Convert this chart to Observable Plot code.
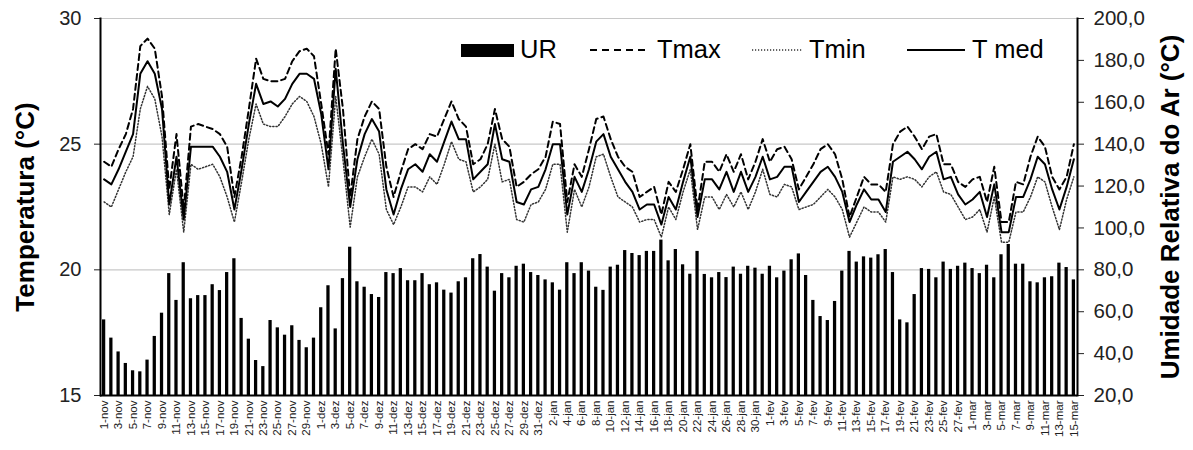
<!DOCTYPE html>
<html><head><meta charset="utf-8">
<script src="https://cdn.jsdelivr.net/npm/d3@7"></script>
<script src="https://cdn.jsdelivr.net/npm/@observablehq/plot@0.6"></script>
<style>
body{margin:0;background:#fff;}
#wrap{position:relative;width:1193px;height:450px;font-family:"Liberation Sans",Arial,sans-serif;}
#wrap svg{display:block;}
#legend{position:absolute;left:0;top:0;}
</style></head><body><div id="wrap"></div>
<script>
const months = ["nov","dez","jan","fev","mar"];
const monthDays = [30,31,31,28,15];
const dias = months.flatMap((m,k)=>d3.range(1,monthDays[k]+1).map(d=>`${d}-${m}`));

const UR = [56.1,47.4,40.8,35.3,31.8,31.3,36.9,48.2,59.3,78.2,65.4,83.4,66.2,67.7,67.7,72.9,70.1,78.7,85.3,56.8,
46.9,36.7,33.8,55.8,52.3,48.8,53.3,46.3,42.8,47.4,61.9,72.4,51.8,75.8,90.8,74.3,71.7,68.2,66.8,78.7,
78.2,80.6,74.8,74.8,78.2,72.9,73.8,70.3,68.9,74.3,76.2,85.3,87.3,81.3,69.8,78.2,76.2,81.7,82.7,78.7,
77.3,75.2,73.8,70.3,83.4,78.2,83.4,79.4,71.7,70.2,81.3,82.2,89.2,87.8,86.8,88.8,88.8,94.2,84.3,89.7,
82.4,77.9,88.8,77.8,76.2,78.7,76.3,81.3,77.9,81.7,80.8,77.9,81.7,76.2,79.4,84.8,87.6,77.3,65.4,57.7,
55.8,64.9,79.4,88.8,83.7,86.2,85.6,87.2,89.7,78.7,56.1,54.7,68.2,80.6,80.2,76.2,83.7,80.2,81.7,83.2,
80.6,78.2,82.2,76.2,87.2,92.1,82.7,82.7,74.3,73.8,76.2,76.7,83.2,81.1,75.2];

const Tmed = [23.6,23.4,24.0,24.7,25.4,27.8,28.3,27.8,26.4,22.6,24.5,22.0,24.9,24.9,24.9,24.9,24.5,23.9,22.4,24.0,
25.8,27.4,26.6,26.7,26.5,26.8,27.4,27.8,27.8,27.6,26.2,24.0,28.0,25.0,22.5,24.4,25.4,26.0,25.5,23.2,
22.2,23.2,24.0,24.2,23.9,24.6,24.3,25.1,25.9,25.2,25.2,23.6,23.9,24.2,25.8,24.4,24.3,22.7,22.6,23.2,
23.3,24.0,25.0,25.0,22.2,23.7,23.1,24.0,25.1,25.4,24.5,24.0,23.5,23.1,22.4,22.6,22.6,21.8,22.9,22.4,
23.5,24.5,22.1,23.6,23.6,23.2,23.9,23.1,23.9,23.1,23.7,24.5,23.6,23.7,24.1,24.1,22.7,23.1,23.5,23.9,
24.1,23.7,23.1,21.9,22.6,23.2,22.8,22.8,22.3,24.3,24.5,24.7,24.4,24.0,24.5,24.7,23.6,23.7,23.0,22.6,
22.8,23.1,22.1,23.4,21.5,21.5,22.9,22.9,23.6,24.5,24.2,23.2,22.4,23.3,24.4];

const Tmax = [24.3,24.1,24.8,25.4,26.4,28.9,29.2,28.8,26.9,23.2,25.4,22.4,25.7,25.8,25.7,25.6,25.4,24.9,22.9,24.5,
26.4,28.4,27.6,27.5,27.5,27.6,28.3,28.7,28.8,28.5,26.6,24.6,28.8,26.4,22.9,25.2,26.1,26.7,26.4,24.1,
22.9,23.9,24.8,25.0,24.8,25.4,25.3,26.0,26.7,26.0,25.7,24.2,24.4,25.0,26.4,25.2,24.9,23.3,23.5,23.8,
24.0,24.5,25.9,25.8,22.7,24.2,23.7,24.8,26.0,26.1,25.2,24.5,24.1,23.9,22.9,23.1,23.3,22.2,23.5,23.1,
24.0,25.0,22.4,24.3,24.3,23.9,24.6,23.9,24.6,23.6,24.3,25.2,24.3,24.8,24.9,24.4,23.2,23.7,24.2,24.8,
25.0,24.6,23.6,22.1,22.9,23.7,23.4,23.4,23.1,25.0,25.5,25.7,25.3,24.8,25.3,25.4,24.2,24.2,23.5,23.3,
23.6,23.7,22.7,24.1,21.9,21.9,23.5,23.4,24.5,25.3,24.9,23.7,23.2,23.7,25.0];

const Tmin = [22.7,22.5,23.2,23.9,24.5,26.4,27.3,26.8,25.3,22.2,24.0,21.5,24.2,24.0,24.1,24.2,23.7,22.9,21.9,23.5,
25.2,26.6,25.8,25.7,25.7,26.1,26.6,26.9,26.7,26.1,25.0,23.3,26.9,24.4,21.7,23.7,24.5,25.2,24.6,22.4,
21.8,22.5,23.3,23.3,23.1,23.7,23.4,24.2,25.1,24.4,24.3,23.1,23.3,23.6,25.0,23.5,23.6,22.0,21.9,22.6,
22.7,23.2,24.2,24.2,21.5,23.2,22.5,23.3,24.5,24.6,23.7,22.9,22.7,22.5,21.9,22.0,22.0,21.3,22.5,22.0,
23.1,24.0,21.6,22.9,22.9,22.4,23.0,22.5,23.1,22.4,23.1,24.0,23.0,22.9,23.4,23.3,22.4,22.5,22.6,22.9,
23.2,22.9,22.4,21.3,21.9,22.5,22.3,22.3,21.9,23.7,23.6,23.7,23.6,23.3,23.7,23.9,23.1,23.0,22.5,22.0,
22.1,22.4,21.5,22.9,21.1,21.1,22.3,22.3,22.9,23.7,23.5,22.5,21.6,22.8,23.7];

const yTicks = [15,20,25,30];
const urTicks = [20,40,60,80,100,120,140,160,180,200];
const urToT = u => 15 + (u - 20) * 15 / 180;
const tToUr = t => 20 + (t - 15) * 180 / 15;

const data = dias.map((dia,i)=>({dia, ur:UR[i], tmax:Tmax[i], tmin:Tmin[i], tmed:Tmed[i]}));

const font = "Liberation Sans, Arial, sans-serif";
const chart = Plot.plot({
  width:1193, height:450,
  marginLeft:100, marginRight:116, marginTop:18, marginBottom:55,
  style:{fontFamily:font, background:"white", color:"#222", overflow:"visible"},
  x:{type:"band", domain:dias, paddingInner:0.55, paddingOuter:0.275, label:null},
  y:{domain:[15,30], label:null},
  marks:[
    Plot.ruleY(yTicks.slice(1), {stroke:"#c8c8c8", strokeWidth:1.2}),
    Plot.barY(data, {x:"dia", y1:()=>15, y2:d=>urToT(d.ur), fill:"black"}),
    Plot.line(data, {x:"dia", y:"tmax", stroke:"black", strokeWidth:2, strokeDasharray:"6,4"}),
    Plot.line(data, {x:"dia", y:"tmin", stroke:"#333", strokeWidth:1.5, strokeDasharray:"1.2,2"}),
    Plot.line(data, {x:"dia", y:"tmed", stroke:"black", strokeWidth:2}),
    Plot.axisX({ticks:dias.filter((d,i)=>i%2===0), tickRotate:-90, tickSize:0, tickPadding:5, fontSize:11.5, label:null}),
    Plot.axisY({ticks:yTicks, tickSize:6, tickPadding:13, fontSize:20, label:null, tickFormat:d=>String(d)}),
    Plot.axisY({anchor:"right", ticks:urTicks.map(urToT), tickFormat:t=>tToUr(t).toFixed(1).replace(".",","), tickSize:6, tickPadding:10, fontSize:20.5, label:null}),
    Plot.ruleY([15], {stroke:"black", strokeWidth:2}),
    Plot.frame({anchor:"left", stroke:"black", strokeWidth:2}),
    Plot.frame({anchor:"right", stroke:"black", strokeWidth:2}),
    Plot.text(["Temperatura (°C)"], {frameAnchor:"left", dx:-75, rotate:-90, textAnchor:"middle", fontSize:26, fontWeight:"bold", fill:"black"}),
    Plot.text(["Umidade Relativa do Ar (°C)"], {frameAnchor:"right", dx:93, rotate:-90, textAnchor:"middle", fontSize:26, fontWeight:"bold", fill:"black"})
  ]
});
const wrap = document.getElementById("wrap");
wrap.appendChild(chart);

// legend overlay
const legendItems = [
  {label:"UR", kind:"bar"},
  {label:"Tmax", kind:"dash"},
  {label:"Tmin", kind:"dot"},
  {label:"T med", kind:"solid"}
];
const legendX = [461, 590, 752, 907];
const leg = d3.select(wrap).append("svg").attr("id","legend").attr("width",1193).attr("height",450)
  .attr("font-family", font);
legendItems.forEach((it,k)=>{
  const x0 = legendX[k];
  const g = leg.append("g");
  let textX;
  if (it.kind==="bar") { g.append("rect").attr("x",x0).attr("y",44).attr("width",53).attr("height",13).attr("fill","black"); textX = x0+59; }
  else {
    const ln = g.append("line").attr("x1",x0).attr("x2",x0+57).attr("y1",50).attr("y2",50).attr("stroke","black");
    if (it.kind==="dash") ln.attr("stroke-width",2).attr("stroke-dasharray","7,5");
    if (it.kind==="dot") ln.attr("stroke-width",1.5).attr("stroke","#333").attr("stroke-dasharray","1.2,1.8").attr("x2",x0+51);
    if (it.kind==="solid") ln.attr("stroke-width",2).attr("x2",x0+58);
    textX = x0 + (it.kind==="dot"?57:(it.kind==="dash"?67:65));
  }
  g.append("text").attr("x",textX).attr("y",58).attr("font-size",25.5).attr("fill","black").text(it.label);
});
</script></body></html>
